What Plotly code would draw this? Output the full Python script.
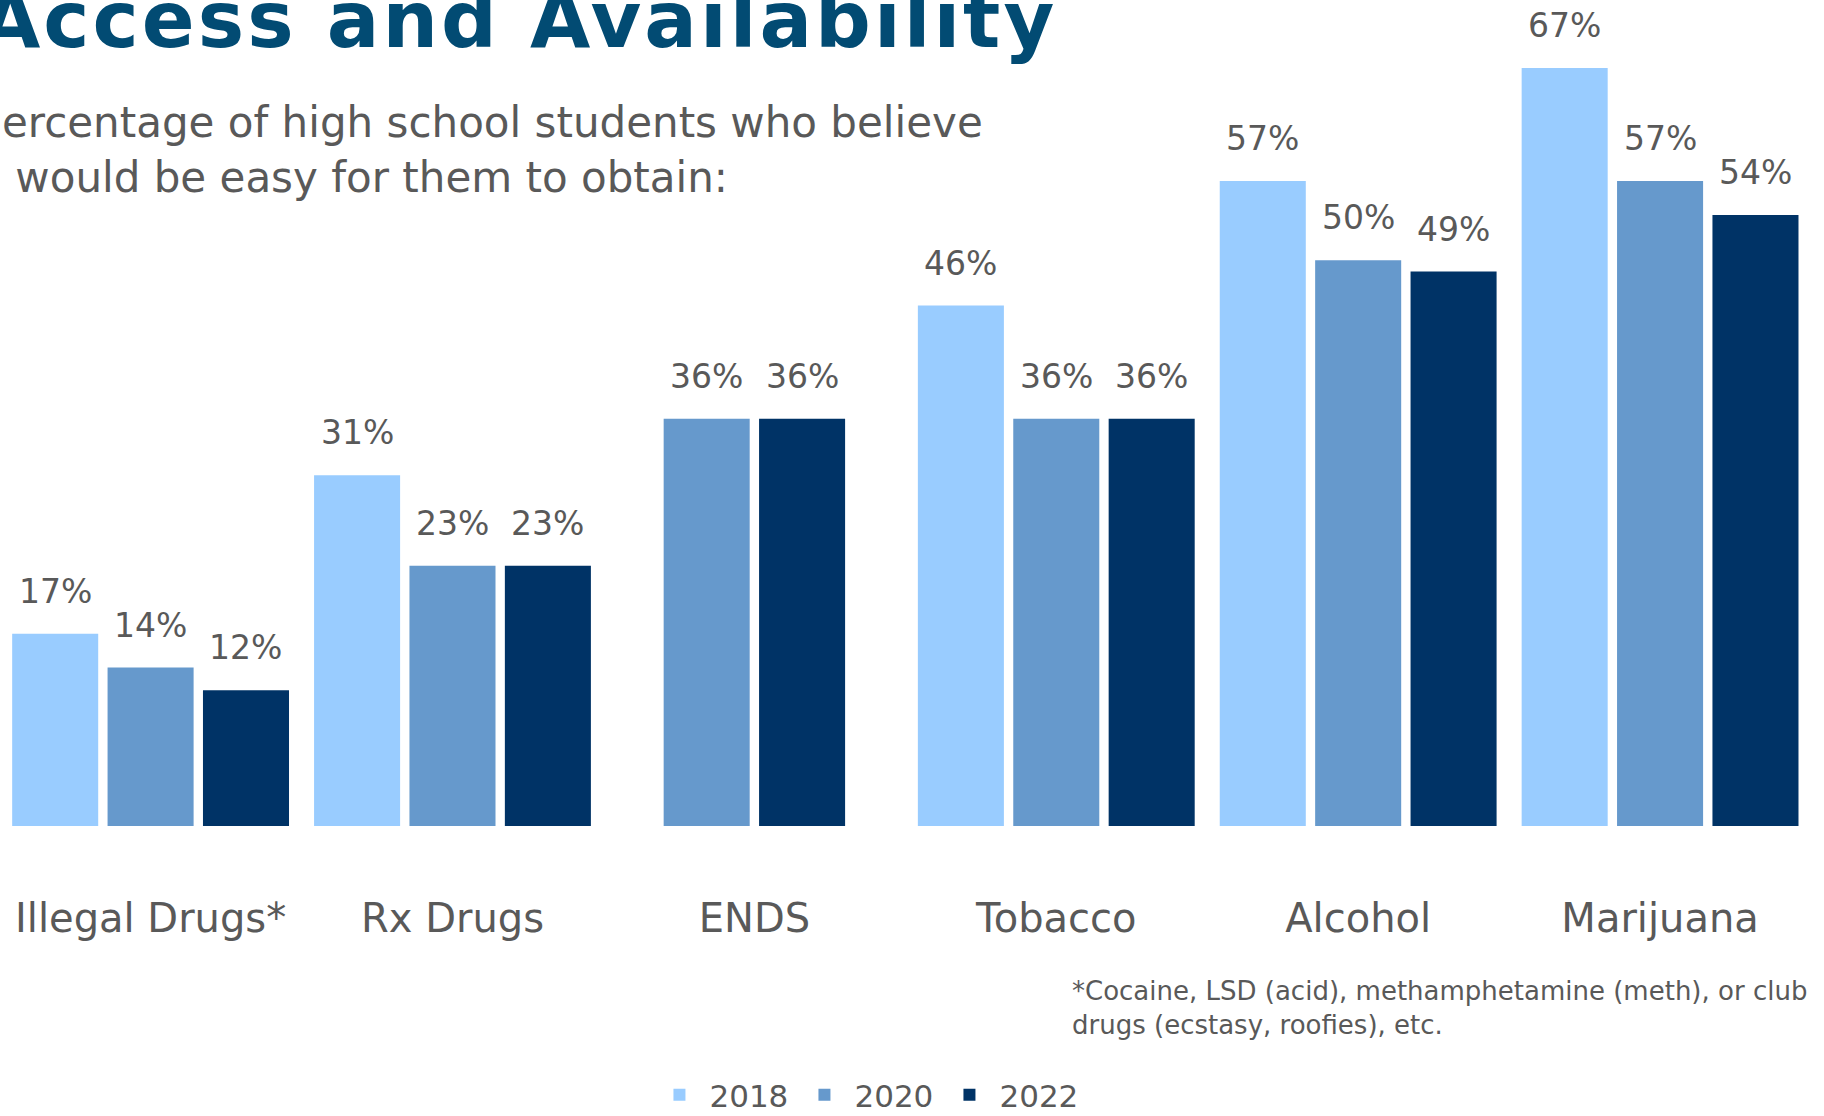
import plotly.graph_objects as go

# ---- data ----
categories = ["Illegal Drugs*", "Rx Drugs", "ENDS", "Tobacco", "Alcohol", "Marijuana"]
years = ["2018", "2020", "2022"]
y2018 = [17, 31, None, 46, 57, 67]
y2020 = [14, 23, 36, 36, 50, 57]
y2022 = [12, 23, 36, 36, 49, 54]

title_text = "Access and Availability"
subtitle_lines = ["ercentage of high school students who believe", " would be easy for them to obtain:"]
footnote_lines = ["*Cocaine, LSD (acid), methamphetamine (meth), or club", "drugs (ecstasy, roofies), etc."]

# ---- style ----
colors = ["#99CCFF", "#6699CC", "#003366"]
GRAY = "#595959"
FONT = "DejaVu Sans"
BAR_W = 0.285
PITCH = 0.316

series = [y2018, y2020, y2022]
xs = list(range(len(categories)))

# offsets: center the present bars of each category
offsets = [[0.0] * len(categories) for _ in series]
for i in xs:
    present = [s for s in range(len(series)) if series[s][i] is not None]
    n = len(present)
    start = -(n * BAR_W + (n - 1) * (PITCH - BAR_W)) / 2
    for k, s in enumerate(present):
        offsets[s][i] = start + k * PITCH

fig = go.Figure()
annotations = []
for s, (vals, yr, col) in enumerate(zip(series, years, colors)):
    fig.add_trace(go.Bar(
        x=xs, y=vals, name=yr,
        marker=dict(color=col, line=dict(width=0)),
        width=[BAR_W] * len(xs),
        offset=offsets[s],
        hoverinfo="skip",
    ))
    for i, v in enumerate(vals):
        if v is None:
            continue
        annotations.append(dict(
            x=i + offsets[s][i] + BAR_W / 2, y=v, xref="x", yref="y",
            text=f"{v}%", showarrow=False, yanchor="bottom", xanchor="center",
            yshift=21, font=dict(family=FONT, size=33, color=GRAY),
        ))

PLOT_H = 826
def py(px):
    return 1 - px / PLOT_H

annotations.append(dict(
    x=-0.012, y=py(67), xref="paper", yref="paper", xanchor="left", yanchor="bottom",
    text=f"<b><span style='letter-spacing:3px'>{title_text}</span></b>", showarrow=False,
    font=dict(family=FONT, size=78, color="#024B73"),
))
annotations.append(dict(
    x=0.0, y=py(96), xref="paper", yref="paper", xanchor="left", yanchor="top", align="left",
    text="<br>".join(subtitle_lines), showarrow=False,
    font=dict(family=FONT, size=42, color=GRAY),
))
annotations.append(dict(
    x=1070 / 1824, y=py(974), xref="paper", yref="paper", xanchor="left", yanchor="top", align="left",
    text="<br>".join(footnote_lines), showarrow=False,
    font=dict(family=FONT, size=26, color=GRAY),
))

fig.update_layout(
    width=1824, height=1116,
    margin=dict(l=0, r=0, t=0, b=1116 - PLOT_H, pad=0, autoexpand=False),
    paper_bgcolor="white", plot_bgcolor="white",
    barmode="overlay",
    showlegend=True,
    legend=dict(
        orientation="h", x=0.4753, xanchor="center", y=py(1122), yanchor="bottom",
        font=dict(family=FONT, size=31, color=GRAY),
        bgcolor="rgba(0,0,0,0)", traceorder="normal",
        itemwidth=50, entrywidth=80, entrywidthmode="pixels",
    ),
    xaxis=dict(
        range=[-0.4988, 5.543], tickvals=xs, ticktext=categories,
        showgrid=False, zeroline=False, showline=False, ticks="",
        ticklabelstandoff=65,
        tickfont=dict(family=FONT, size=40, color=GRAY),
        fixedrange=True,
    ),
    yaxis=dict(range=[0, 73.0], visible=False, fixedrange=True),
    annotations=annotations,
    font=dict(family=FONT, color=GRAY),
)

fig.write_html(
    "out.html",
    config={"displayModeBar": False},
    post_script="document.body.style.margin='0px';document.body.style.overflow='hidden';",
)
